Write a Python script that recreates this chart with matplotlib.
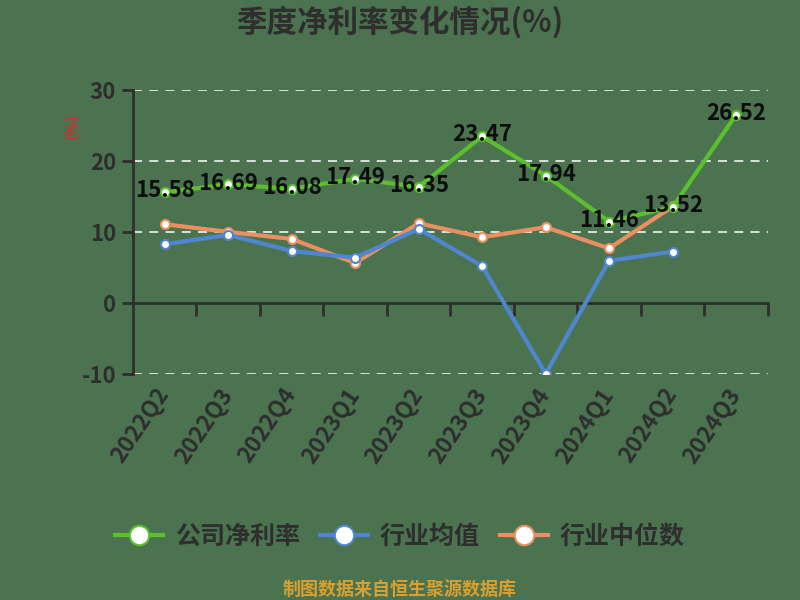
import matplotlib
matplotlib.use("Agg")
import matplotlib.pyplot as plt
from matplotlib.lines import Line2D

plt.rcParams['font.family'] = ['Noto Sans CJK SC', 'DejaVu Sans']
plt.rcParams['axes.unicode_minus'] = False

quarters = ["2022Q2", "2022Q3", "2022Q4", "2023Q1", "2023Q2",
            "2023Q3", "2023Q4", "2024Q1", "2024Q2", "2024Q3"]
company = [15.58, 16.69, 16.08, 17.49, 16.35, 23.47, 17.94, 11.46, 13.52, 26.52]
ind_mean = [8.25, 9.58, 7.31, 6.37, 10.42, 5.19, -10.0, 5.94, 7.22]
ind_median = [11.08, 10.0, 9.01, 5.61, 11.22, 9.25, 10.66, 7.69, 13.58]
yticks = [-10, 0, 10, 20, 30]

BG = '#4b7350'
DARK = '#2e2e2e'
GREEN = '#5cc02c'
BLUE = '#4f86d0'
ORANGE = '#ea9060'

fig = plt.figure(figsize=(8, 6), dpi=100, facecolor=BG)
ax = fig.add_axes([0.166, 0.377, 0.794, 0.473], facecolor=BG)

x = list(range(len(quarters)))
ax.set_xlim(-0.5, len(quarters) - 0.5)
ax.set_ylim(-10, 30)

# grid
for v in yticks:
    if v != 0:
        ax.axhline(v, color='#ffffff', lw=1.3, ls=(0, (5, 4)), alpha=0.85, zorder=1)

# series
kw = dict(lw=3, marker='o', ms=6.5, mfc='white', mew=1.5, zorder=3)
ax.plot(x[:len(ind_median)], ind_median, color=ORANGE, mec=ORANGE, **kw)
ax.plot(x[:len(ind_mean)], ind_mean, color=BLUE, mec=BLUE, **kw)
ax.plot(x, company, color=GREEN, mec=GREEN, **kw)

for xi, v in zip(x, company):
    ax.annotate(f"{v:.2f}", (xi, v), xytext=(0, 1), textcoords='offset points',
                ha='center', va='center', fontsize=16, fontweight='bold',
                color='#0d0d0d', zorder=5)

# spines
for s in ['top', 'right']:
    ax.spines[s].set_visible(False)
ax.spines['left'].set_color(DARK)
ax.spines['left'].set_linewidth(2)
ax.spines['bottom'].set_position(('data', 0))
ax.spines['bottom'].set_color(DARK)
ax.spines['bottom'].set_linewidth(2)

ax.set_yticks(yticks)
ax.set_yticklabels([str(v) for v in yticks])
ax.tick_params(axis='y', colors=DARK, labelsize=16, length=8, width=2, pad=4)
for lab in ax.get_yticklabels():
    lab.set_fontweight('bold')
ax.set_xticks([i + 0.5 for i in x])
ax.tick_params(axis='x', length=9, width=2, colors=DARK, labelbottom=False, direction='out')

sec = ax.secondary_xaxis(0.0)
sec.spines['bottom'].set_visible(False)
sec.set_xticks(x)
sec.set_xticklabels(quarters, rotation=56, ha='right', va='center', rotation_mode='anchor')
sec.tick_params(axis='x', length=0, labelsize=16.5, colors=DARK, pad=12)
for lab in sec.get_xticklabels():
    lab.set_color(DARK)
    lab.set_fontweight('bold')

fig.text(0.09, 0.79, '(%)', rotation=90, color='#c8322a', fontsize=11,
         fontweight='bold', ha='center', va='center')

fig.text(0.5, 0.962, '季度净利率变化情况(%)', ha='center', va='center',
         fontsize=22, fontweight='bold', color=DARK)

handles = [
    Line2D([0], [0], color=GREEN, lw=3, marker='o', ms=14, mfc='white', mec=GREEN, mew=1.5),
    Line2D([0], [0], color=BLUE, lw=3, marker='o', ms=14, mfc='white', mec=BLUE, mew=1.5),
    Line2D([0], [0], color=ORANGE, lw=3, marker='o', ms=14, mfc='white', mec=ORANGE, mew=1.5),
]
leg = fig.legend(handles, ['公司净利率', '行业均值', '行业中位数'], loc='center',
                 bbox_to_anchor=(0.5, 0.105), ncol=3, frameon=False,
                 handlelength=1.9, columnspacing=0.8, handletextpad=0.5,
                 prop={'size': 18, 'weight': 'bold'})
for t in leg.get_texts():
    t.set_color(DARK)

fig.text(0.5, 0.018, '制图数据来自恒生聚源数据库', ha='center', va='center',
         fontsize=13, fontweight='bold', color='#d9a030')

fig.savefig('out.png', dpi=100, facecolor=BG)
